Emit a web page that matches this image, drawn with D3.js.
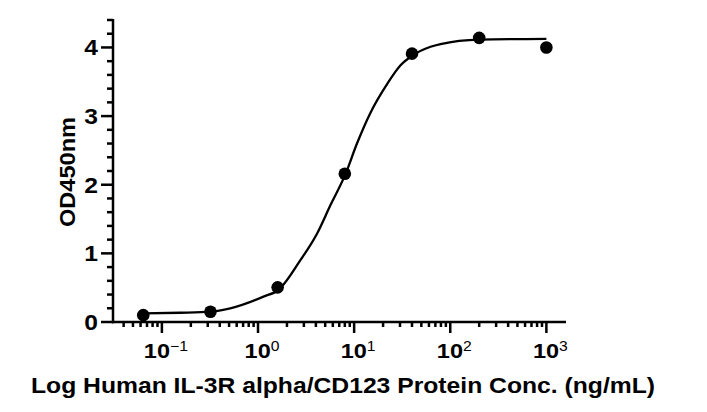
<!DOCTYPE html>
<html>
<head>
<meta charset="utf-8">
<script src="https://cdn.jsdelivr.net/npm/d3@7"></script>
<style>
  body { margin: 0; background: #fff; }
  svg { display: block; }
  text { font-family: "Liberation Sans", Arial, Helvetica, sans-serif; font-weight: bold; fill: #000; }
</style>
</head>
<body>
<svg id="chart" width="707" height="412"></svg>
<script>
// measured points (ng/mL vs OD450)
var concentrations = [0.064, 0.32, 1.6, 8, 40, 200, 1000];
var odValues = [0.10, 0.15, 0.505, 2.16, 3.91, 4.14, 4.00];

// fitted curve
var curveConc = [0.064, 0.155, 0.32, 0.514, 1.14, 1.64, 2.76, 4.12, 5.66, 8.1, 10.7, 14.8, 22.1, 30.4, 40.2, 62.4, 79.2, 202, 1000];
var curveOD = [0.125, 0.135, 0.15, 0.2, 0.37, 0.47, 0.9, 1.29, 1.7, 2.15, 2.6, 3.05, 3.47, 3.74, 3.88, 4.01, 4.05, 4.115, 4.125];

var xMajor = [0.1, 1, 10, 100, 1000];
var xMajorExp = ["\u22121", "0", "1", "2", "3"];
var yMajor = [0, 1, 2, 3, 4];

var svg = d3.select('#chart');

var x = d3.scaleLog().domain([0.031, 1600]).range([113, 566]);
var y = d3.scaleLinear().domain([0, 4.4]).range([322, 20]);

// lettering in the original is a bit wider than Arial
var stretch = 1.12;

// minor ticks
var xMinor = [];
[0.01, 0.1, 1, 10, 100].forEach(function(d) {
    for (var k = 2; k <= 9; k++) {
        var v = d * k;
        if (v >= x.domain()[0] && v <= x.domain()[1]) xMinor.push(v);
    }
});
var yMinor = d3.range(0, 23).map(function(i) { return i * 0.2 })
    .filter(function(v) { return Math.abs(v - Math.round(v)) > 1e-6 });

var axes = svg.append('g').attr('stroke', '#000').attr('stroke-width', 2.5);

// y axis
axes.append('line').attr('x1', 113).attr('x2', 113).attr('y1', y(4.4) - 1).attr('y2', y(0) + 1.2);
axes.selectAll('.yminor').data(yMinor).enter().append('line')
    .attr('x1', 107).attr('x2', 113)
    .attr('y1', function(d) { return y(d) }).attr('y2', function(d) { return y(d) });
axes.selectAll('.ymajor').data(yMajor).enter().append('line')
    .attr('x1', 101).attr('x2', 113)
    .attr('y1', function(d) { return y(d) }).attr('y2', function(d) { return y(d) });

// x axis
axes.append('line').attr('x1', 112).attr('x2', 566).attr('y1', 322).attr('y2', 322);
axes.selectAll('.xminor').data(xMinor).enter().append('line')
    .attr('x1', function(d) { return x(d) }).attr('x2', function(d) { return x(d) })
    .attr('y1', 322).attr('y2', 327);
axes.selectAll('.xmajor').data(xMajor).enter().append('line')
    .attr('x1', function(d) { return x(d) }).attr('x2', function(d) { return x(d) })
    .attr('y1', 322).attr('y2', 333);

// y tick labels
svg.selectAll('.ylab').data(yMajor).enter().append('text')
    .attr('transform', function(d) { return 'translate(98,' + (y(d) + 8) + ') scale(' + stretch + ',1)' })
    .attr('text-anchor', 'end').style('font-size', '22px')
    .text(function(d) { return d });

// x tick labels 10^n
var xl = svg.selectAll('.xlab').data(xMajor).enter().append('text')
    .attr('transform', function(d) { return 'translate(' + (x(d) + 4) + ',357.5) scale(' + stretch + ',1)' })
    .attr('text-anchor', 'middle').style('font-size', '21px');
xl.append('tspan').text('10');
xl.append('tspan').attr('dy', -7).style('font-size', '14px').style('font-weight', 'normal')
    .text(function(d, i) { return xMajorExp[i] });

// axis titles
svg.append('text').attr('x', 343).attr('y', 393).attr('text-anchor', 'middle')
    .attr('textLength', 624).attr('lengthAdjust', 'spacingAndGlyphs')
    .style('font-size', '22px')
    .text('Log Human IL-3R alpha/CD123 Protein Conc. (ng/mL)');
svg.append('text').attr('transform', 'translate(75,172) rotate(-90)')
    .attr('text-anchor', 'middle')
    .attr('textLength', 110).attr('lengthAdjust', 'spacingAndGlyphs')
    .style('font-size', '22px')
    .text('OD450nm');

// fitted curve
var line = d3.line()
    .x(function(d) { return x(d[0]) })
    .y(function(d) { return y(d[1]) })
    .curve(d3.curveMonotoneX);
svg.append('path').datum(d3.zip(curveConc, curveOD))
    .attr('d', line).attr('fill', 'none').attr('stroke', '#000').attr('stroke-width', 2.3);

// points
svg.selectAll('circle').data(d3.zip(concentrations, odValues)).enter().append('circle')
    .attr('cx', function(d) { return x(d[0]) }).attr('cy', function(d) { return y(d[1]) })
    .attr('r', 6.3).attr('fill', '#000');
</script>
</body>
</html>
